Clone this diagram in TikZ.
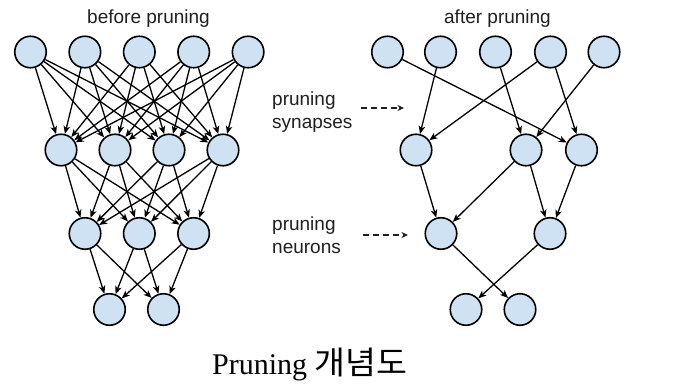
\documentclass[tikz,border=0pt]{standalone}
\usepackage{fontspec}
\setmainfont{Liberation Serif}
\setsansfont{Liberation Sans}
\newfontfamily\krfont[FakeStretch=1.05]{Noto Sans CJK KR}
\usetikzlibrary{arrows.meta}
\definecolor{nfill}{HTML}{CFE2F3}
\definecolor{txt}{HTML}{1F1F1F}
\begin{document}
\begin{tikzpicture}[x=1pt,y=-1pt,
  neuron/.style={circle,draw=black,line width=1.6pt,fill=nfill,minimum size=31.5pt,inner sep=0pt},
  syn/.style={-{Stealth[length=8pt,width=6.5pt,inset=2.2pt]},line width=1.3pt},
  dasharrow/.style={-{Stealth[length=6.5pt,width=6pt,inset=2pt]},line width=1.3pt,dash pattern=on 6pt off 4pt,draw=txt},
  lbl/.style={inner sep=0pt,text=txt,font=\sffamily\fontsize{19}{23}\selectfont},
  title/.style={lbl,anchor=base}]
\useasboundingbox (0,0) rectangle (674,385);

% titles
\node[title] (tbefore) at (148.5,24) {before pruning};
\node[title] (tafter) at (497.5,24) {after pruning};

% dense network
\foreach \x [count=\i] in {30.5,84.9,139.3,193.7,248.1} \node[neuron] (a\i) at (\x,52) {};
\foreach \x [count=\i] in {61,115,169,223} \node[neuron] (b\i) at (\x,150) {};
\foreach \x [count=\i] in {85,139.3,193.6} \node[neuron] (c\i) at (\x,233.5) {};
\foreach \x [count=\i] in {109.5,163.5} \node[neuron] (d\i) at (\x,309.5) {};

\foreach \i in {1,...,5} \foreach \j in {1,...,4} \draw[syn] (a\i) -- (b\j);
\foreach \i in {1,...,4} \foreach \j in {1,...,3} \draw[syn] (b\i) -- (c\j);
\foreach \i in {1,...,3} \foreach \j in {1,2} \draw[syn] (c\i) -- (d\j);

% pruned network
\foreach \x [count=\i] in {387.5,440.5,495.5,550.5,604} \node[neuron] (p\i) at (\x,52) {};
\foreach \x [count=\i] in {416,526,581.5} \node[neuron] (q\i) at (\x,150) {};
\foreach \x [count=\i] in {441,550} \node[neuron] (r\i) at (\x,233.5) {};
\foreach \x [count=\i] in {466,520} \node[neuron] (s\i) at (\x,309.5) {};

\draw[syn] (p1) -- (q3);
\draw[syn] (p2) -- (q1);
\draw[syn] (p3) -- (q2);
\draw[syn] (p4) -- (q1);
\draw[syn] (p4) -- (q3);
\draw[syn] (p5) -- (q2);
\draw[syn] (q1) -- (r1);
\draw[syn] (q2) -- (r1);
\draw[syn] (q2) -- (r2);
\draw[syn] (q3) -- (r2);
\draw[syn] (r1) -- (s2);
\draw[syn] (r2) -- (s1);

% side labels
\node[lbl,anchor=west,align=left] (synlbl) at (272,112) {pruning\\synapses};
\node[lbl,anchor=west,align=left] (neulbl) at (272,235) {pruning\\neurons};
\coordinate (synstart) at (361,108);
\coordinate (synend) at (404,108);
\coordinate (neustart) at (363,235);
\coordinate (neuend) at (408,235);
\draw[dasharrow] (synstart) -- (synend);
\draw[dasharrow] (neustart) -- (neuend);

% caption
\node[anchor=base west,inner sep=0pt,font=\fontsize{30}{36}\selectfont] (cap) at (212,374)
  {Pruning\kern7pt{\krfont\fontsize{32}{36}\selectfont 개념도}};
\end{tikzpicture}
\end{document}
